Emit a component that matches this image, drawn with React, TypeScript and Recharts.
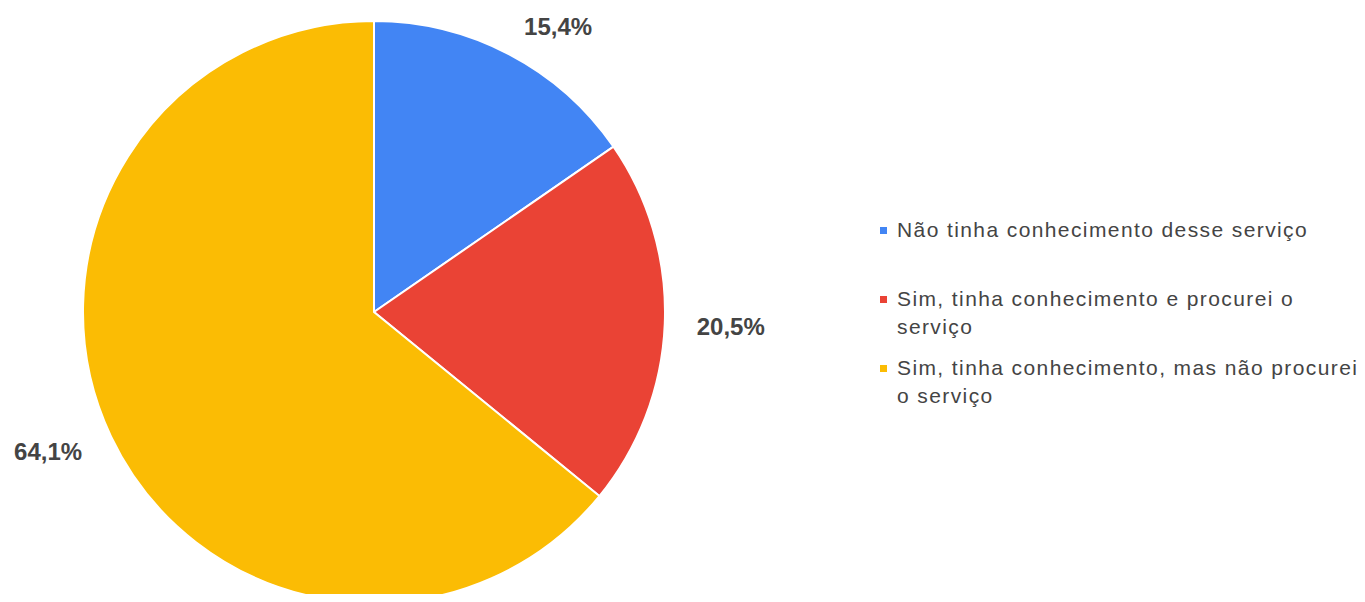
import { Legend, Pie, PieChart, Cell } from "recharts";

const CATEGORIES = [
  "Não tinha conhecimento desse serviço",
  "Sim, tinha conhecimento e procurei o serviço",
  "Sim, tinha conhecimento, mas não procurei o serviço",
];
const COUNTS = [6, 8, 25];
const COLORS = ["#4285f4", "#ea4335", "#fbbc04"];

const data = CATEGORIES.map((name, i) => ({ name, value: COUNTS[i] }));
const total = COUNTS.reduce((a, b) => a + b, 0);

const RAD = Math.PI / 180;

function formatPct(v: number): string {
  return ((v / total) * 100).toFixed(1).replace(".", ",") + "%";
}

// label sits just outside the slice, anchored on the side facing the pie
function renderLabel(props: any) {
  const { cx, cy, midAngle, outerRadius, value } = props;
  const r = outerRadius + 32;
  const cos = Math.cos(midAngle * RAD);
  const x = cx + r * cos;
  const y = cy - r * Math.sin(midAngle * RAD);
  return (
    <text
      x={x}
      y={y + 1}
      textAnchor={cos >= 0 ? "start" : "end"}
      dominantBaseline="central"
      fill="#444444"
      fontSize={24}
      fontWeight="bold"
      fontFamily="Arial, 'Liberation Sans', sans-serif"
    >
      {formatPct(value)}
    </text>
  );
}

function renderLegend() {
  return (
    <div style={{ fontFamily: "Arial, 'Liberation Sans', sans-serif" }}>
      {CATEGORIES.map((name, i) => (
        <div
          key={name}
          style={{ display: "flex", alignItems: "flex-start", height: 69 }}
        >
          <span
            style={{
              display: "inline-block",
              width: 7,
              height: 7,
              background: COLORS[i],
              marginTop: 11,
              marginRight: 10,
              flexShrink: 0,
            }}
          />
          <span
            style={{
              fontSize: 21,
              lineHeight: "28px",
              letterSpacing: "1.4px",
              color: "#444444",
            }}
          >
            {name}
          </span>
        </div>
      ))}
    </div>
  );
}

export default function App() {
  return (
    <div style={{ margin: -8, width: 1365, height: 602, overflow: "hidden", background: "#fff" }}>
      <PieChart width={1365} height={602} margin={{ top: 0, right: 0, bottom: 0, left: 0 }}>
        <Pie
          data={data}
          dataKey="value"
          nameKey="name"
          cx={374}
          cy={312}
          outerRadius={291}
          startAngle={90}
          endAngle={-270}
          stroke="#ffffff"
          strokeWidth={2}
          label={renderLabel}
          labelLine={false}
          isAnimationActive={false}
        >
          {data.map((d, i) => (
            <Cell key={d.name} fill={COLORS[i]} />
          ))}
        </Pie>
        <Legend
          content={renderLegend}
          layout="vertical"
          wrapperStyle={{ left: 880, top: 216, width: 484 }}
        />
      </PieChart>
    </div>
  );
}
